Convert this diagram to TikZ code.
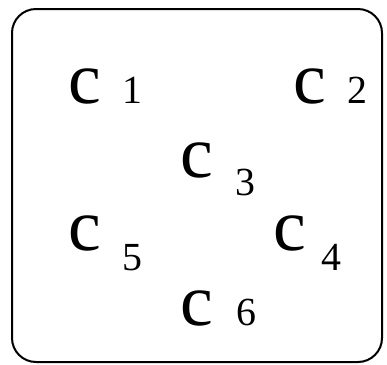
\documentclass[tikz,border=0pt]{standalone}
\usepackage{fontspec}
\setmainfont{Liberation Serif}
\usetikzlibrary{positioning}

\begin{document}
\begin{tikzpicture}[
  x=1bp, y=-1bp,
  cname/.style={font=\fontsize{74}{74}\selectfont, inner sep=0pt, anchor=base west},
  cidx/.style={font=\fontsize{40}{40}\selectfont, inner sep=0pt, anchor=base west},
  frame/.style={draw, line width=2bp, rounded corners=24bp},
]
\useasboundingbox (0,0) rectangle (387,365);

\draw[frame] (12,9) rectangle (382,362);

\node[cname] (c1) at (68,103) {c};
\node[cidx]  (i1) at (122.6,103) {1};
\node[cname] (c2) at (293,103) {c};
\node[cidx]  (i2) at (347,103) {2};
\node[cname] (c3) at (180,177) {c};
\node[cidx]  (i3) at (235.5,195) {3};
\node[cname] (c5) at (68,250) {c};
\node[cidx]  (i5) at (122.7,270) {5};
\node[cname] (c4) at (273,250) {c};
\node[cidx]  (i4) at (321.5,270) {4};
\node[cname] (c6) at (180,325) {c};
\node[cidx]  (i6) at (236.3,325) {6};

\end{tikzpicture}
\end{document}
